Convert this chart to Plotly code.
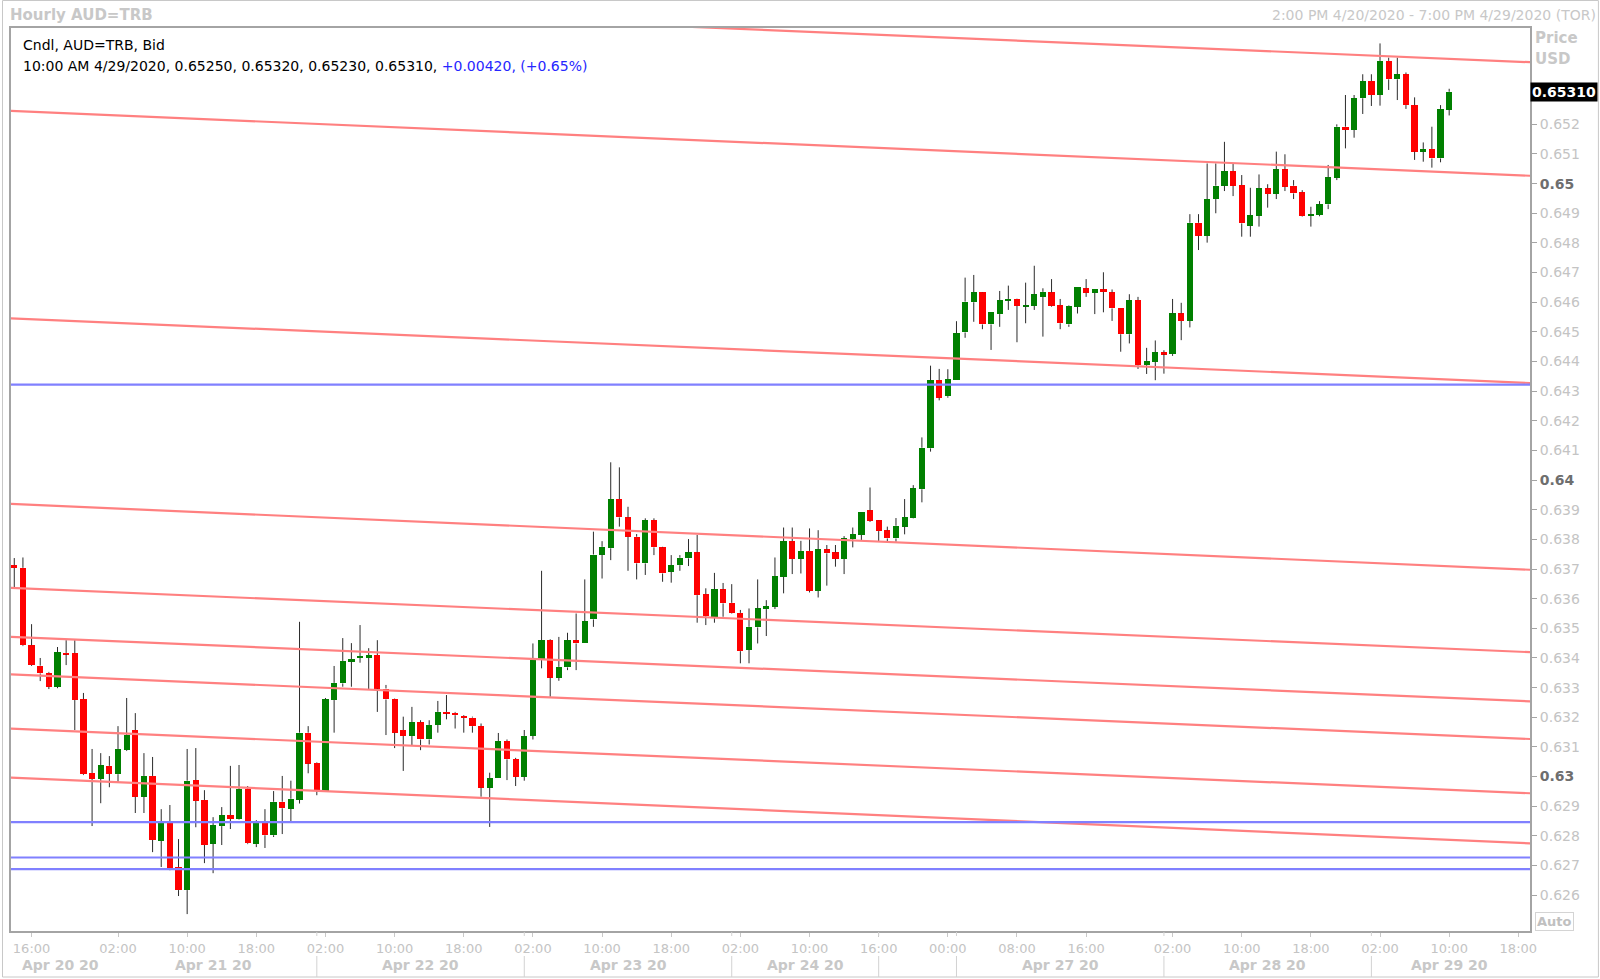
import plotly.graph_objects as go

# ---------------- data (hourly bars, index = bar slot on the chart) ----------------
OPEN = [0.63713, 0.63704, 0.63443, 0.63374, 0.63350, 0.63303, 0.63417, 0.63416, 0.63261, 0.63012,
        0.62992, 0.63036, 0.63008, 0.63089, 0.63157, 0.62932, 0.63002, 0.62783, 0.62843, 0.62695,
        0.62617, 0.62988, 0.62921, 0.62774, 0.62833, 0.62870, 0.62857, 0.62958, 0.62772, 0.62846,
        0.62802, 0.62915, 0.62892, 0.62921, 0.63148, 0.63046, 0.62952, 0.63258, 0.63314, 0.63387,
        0.63400, 0.63400, 0.63410, 0.63297, 0.63261, 0.63157, 0.63137, 0.63183, 0.63125, 0.63174,
        0.63218, 0.63215, 0.63204, 0.63199, 0.63170, 0.62963, 0.62994, 0.63120, 0.63059, 0.62999,
        0.63137, 0.63393, 0.63460, 0.63334, 0.63368, 0.63460, 0.63449, 0.63530, 0.63749, 0.63770,
        0.63936, 0.63874, 0.63809, 0.63719, 0.63865, 0.63773, 0.63691, 0.63713, 0.63736, 0.63756,
        0.63615, 0.63539, 0.63631, 0.63586, 0.63552, 0.63427, 0.63503, 0.63565, 0.63573, 0.63674,
        0.63794, 0.63734, 0.63761, 0.63627, 0.63766, 0.63756, 0.63734, 0.63801, 0.63815, 0.63898,
        0.63864, 0.63830, 0.63803, 0.63843, 0.63873, 0.63969, 0.64107, 0.64337, 0.64283, 0.64337,
        0.64498, 0.64600, 0.64633, 0.64525, 0.64560, 0.64606, 0.64611, 0.64587, 0.64588, 0.64618,
        0.64633, 0.64590, 0.64525, 0.64585, 0.64647, 0.64632, 0.64643, 0.64633, 0.64581, 0.64492,
        0.64607, 0.64388, 0.64399, 0.64431, 0.64425, 0.64562, 0.64537, 0.64868, 0.64824, 0.64948,
        0.64993, 0.65042, 0.64995, 0.64858, 0.64892, 0.64984, 0.64965, 0.65048, 0.64993, 0.64971,
        0.64892, 0.64894, 0.64930, 0.65020, 0.65192, 0.65181, 0.65288, 0.65346, 0.65299, 0.65414,
        0.65352, 0.65369, 0.65265, 0.65108, 0.65117, 0.65085, 0.65250]
HIGH = [0.63737, 0.63739, 0.63514, 0.63400, 0.63353, 0.63437, 0.63460, 0.63460, 0.63282, 0.63093,
        0.63079, 0.63069, 0.63170, 0.63265, 0.63214, 0.63079, 0.63066, 0.62890, 0.62904, 0.62789,
        0.63093, 0.63096, 0.62954, 0.62863, 0.62897, 0.63036, 0.63039, 0.62968, 0.62853, 0.62890,
        0.62951, 0.63002, 0.62986, 0.63522, 0.63170, 0.63048, 0.63265, 0.63373, 0.63467, 0.63450,
        0.63511, 0.63433, 0.63460, 0.63309, 0.63263, 0.63202, 0.63235, 0.63190, 0.63190, 0.63255,
        0.63275, 0.63218, 0.63207, 0.63202, 0.63179, 0.63013, 0.63147, 0.63125, 0.63063, 0.63157,
        0.63449, 0.63694, 0.63463, 0.63471, 0.63485, 0.63550, 0.63665, 0.63826, 0.63794, 0.64060,
        0.64043, 0.63910, 0.63818, 0.63871, 0.63871, 0.63775, 0.63747, 0.63747, 0.63801, 0.63815,
        0.63635, 0.63687, 0.63653, 0.63649, 0.63562, 0.63567, 0.63665, 0.63595, 0.63739, 0.63840,
        0.63840, 0.63795, 0.63837, 0.63831, 0.63781, 0.63781, 0.63811, 0.63840, 0.63892, 0.63975,
        0.63865, 0.63843, 0.63872, 0.63936, 0.63983, 0.64144, 0.64386, 0.64375, 0.64374, 0.64536,
        0.64683, 0.64692, 0.64634, 0.64566, 0.64638, 0.64656, 0.64612, 0.64666, 0.64723, 0.64647,
        0.64678, 0.64611, 0.64590, 0.64652, 0.64678, 0.64643, 0.64701, 0.64643, 0.64581, 0.64627,
        0.64618, 0.64446, 0.64471, 0.64438, 0.64611, 0.64598, 0.64897, 0.64897, 0.65068, 0.65068,
        0.65141, 0.65068, 0.65029, 0.64986, 0.65031, 0.64998, 0.65108, 0.65099, 0.65012, 0.64978,
        0.64922, 0.64941, 0.65063, 0.65200, 0.65299, 0.65299, 0.65369, 0.65369, 0.65473, 0.65425,
        0.65425, 0.65375, 0.65291, 0.65139, 0.65192, 0.65265, 0.65320]
LOW = [0.63639, 0.63440, 0.63373, 0.63322, 0.63295, 0.63298, 0.63376, 0.63157, 0.63005, 0.62833,
       0.62910, 0.62964, 0.62981, 0.63086, 0.62877, 0.62877, 0.62745, 0.62695, 0.62684, 0.62597,
       0.62536, 0.62829, 0.62708, 0.62674, 0.62769, 0.62823, 0.62855, 0.62772, 0.62762, 0.62759,
       0.62796, 0.62806, 0.62847, 0.62909, 0.63011, 0.62937, 0.62951, 0.63148, 0.63303, 0.63303,
       0.63384, 0.63292, 0.63218, 0.63140, 0.63096, 0.63019, 0.63106, 0.63089, 0.63108, 0.63148,
       0.63193, 0.63162, 0.63148, 0.63148, 0.62932, 0.62830, 0.62994, 0.62988, 0.62968, 0.62986,
       0.63125, 0.63365, 0.63269, 0.63323, 0.63359, 0.63359, 0.63449, 0.63505, 0.63668, 0.63730,
       0.63843, 0.63694, 0.63665, 0.63680, 0.63747, 0.63657, 0.63654, 0.63694, 0.63710, 0.63519,
       0.63511, 0.63519, 0.63539, 0.63550, 0.63382, 0.63382, 0.63449, 0.63474, 0.63565, 0.63618,
       0.63683, 0.63685, 0.63621, 0.63604, 0.63644, 0.63708, 0.63683, 0.63773, 0.63798, 0.63859,
       0.63794, 0.63792, 0.63792, 0.63817, 0.63871, 0.63925, 0.64096, 0.64269, 0.64278, 0.64337,
       0.64480, 0.64534, 0.64509, 0.64439, 0.64517, 0.64574, 0.64465, 0.64529, 0.64574, 0.64484,
       0.64585, 0.64509, 0.64517, 0.64562, 0.64618, 0.64560, 0.64566, 0.64537, 0.64433, 0.64461,
       0.64375, 0.64358, 0.64337, 0.64359, 0.64419, 0.64472, 0.64515, 0.64776, 0.64801, 0.64900,
       0.64975, 0.64958, 0.64821, 0.64821, 0.64855, 0.64919, 0.64948, 0.64975, 0.64948, 0.64889,
       0.64855, 0.64890, 0.64914, 0.65012, 0.65119, 0.65155, 0.65235, 0.65262, 0.65263, 0.65316,
       0.65282, 0.65252, 0.65080, 0.65074, 0.65054, 0.65072, 0.65230]
CLOSE = [0.63704, 0.63443, 0.63376, 0.63348, 0.63303, 0.63419, 0.63413, 0.63258, 0.63008, 0.62992,
         0.63039, 0.63009, 0.63093, 0.63140, 0.62932, 0.63002, 0.62786, 0.62843, 0.62691, 0.62617,
         0.62986, 0.62918, 0.62769, 0.62836, 0.62870, 0.62857, 0.62958, 0.62775, 0.62846, 0.62802,
         0.62915, 0.62893, 0.62925, 0.63148, 0.63044, 0.62952, 0.63260, 0.63316, 0.63390, 0.63396,
         0.63406, 0.63410, 0.63297, 0.63260, 0.63148, 0.63137, 0.63183, 0.63125, 0.63174, 0.63218,
         0.63213, 0.63207, 0.63198, 0.63170, 0.62963, 0.62994, 0.63120, 0.63058, 0.62999, 0.63137,
         0.63393, 0.63460, 0.63334, 0.63370, 0.63460, 0.63449, 0.63524, 0.63749, 0.63775, 0.63936,
         0.63874, 0.63809, 0.63719, 0.63865, 0.63773, 0.63685, 0.63713, 0.63738, 0.63756, 0.63612,
         0.63541, 0.63631, 0.63584, 0.63552, 0.63423, 0.63505, 0.63567, 0.63575, 0.63676, 0.63794,
         0.63734, 0.63761, 0.63627, 0.63766, 0.63753, 0.63734, 0.63803, 0.63818, 0.63891, 0.63863,
         0.63828, 0.63803, 0.63846, 0.63875, 0.63972, 0.64109, 0.64337, 0.64278, 0.64341, 0.64495,
         0.64602, 0.64633, 0.64525, 0.64566, 0.64607, 0.64611, 0.64588, 0.64590, 0.64627, 0.64635,
         0.64588, 0.64529, 0.64588, 0.64652, 0.64632, 0.64643, 0.64635, 0.64579, 0.64492, 0.64607,
         0.64388, 0.64402, 0.64431, 0.64425, 0.64562, 0.64537, 0.64868, 0.64824, 0.64948, 0.64993,
         0.65042, 0.64993, 0.64866, 0.64894, 0.64984, 0.64965, 0.65048, 0.64990, 0.64967, 0.64891,
         0.64896, 0.64930, 0.65021, 0.65192, 0.65181, 0.65288, 0.65346, 0.65299, 0.65414, 0.65352,
         0.65369, 0.65265, 0.65108, 0.65117, 0.65085, 0.65252, 0.65310]

# red channel lines: price at bar slot 0 and at bar slot 175
RED_LINE_START = [0.65625, 0.65245, 0.64545, 0.63919, 0.63636, 0.63471, 0.63344, 0.63161, 0.62996]
RED_LINE_END = [0.65410, 0.65027, 0.64328, 0.63698, 0.63420, 0.63254, 0.63127, 0.62944, 0.62775]
RED_LINE_SLOTS = [0, 175]
# blue horizontal levels
BLUE_LEVELS = [0.64322, 0.62846, 0.62727, 0.62688]

# time axis labels (bar slot -> label)
TIME_TICK_SLOTS = [2, 12, 20, 28, 36, 44, 52, 60, 68, 76, 84, 92, 100, 108, 116, 124, 134, 142, 150, 158, 166, 174]
TIME_TICK_LABELS = ["16:00", "02:00", "10:00", "18:00", "02:00", "10:00", "18:00", "02:00", "10:00", "18:00",
                    "02:00", "10:00", "16:00", "00:00", "08:00", "16:00", "02:00", "10:00", "18:00", "02:00",
                    "10:00", "18:00"]
DATE_LABELS = ["Apr 20 20", "Apr 21 20", "Apr 22 20", "Apr 23 20", "Apr 24 20", "Apr 27 20", "Apr 28 20", "Apr 29 20"]
DATE_LABEL_SLOTS = [5.3, 23, 47, 71, 91.5, 121, 145, 166]
DATE_SEPARATOR_SLOTS = [35, 59, 83, 100, 109, 133, 157]
PRICE_TICKS = [round(0.626 + 0.001 * k, 3) for k in range(27)]

LAST_BAR_TEXT = "10:00 AM 4/29/2020"
CHANGE_TEXT = "+0.00420, (+0.65%)"

# ---------------- geometry helpers (pixel -> paper) ----------------
W, H = 1600, 979
ML, MR, MT, MB = 9, 70, 28, 48
PW, PH = W - ML - MR, H - MT - MB


def xp(px):
    return (px - ML) / PW


def yp(py):
    return (H - MB - py) / PH


FONT = "DejaVu Sans"
GREEN = "#008000"
RED = "#FF0000"
LIGHT = "#C4C4C4"

slots = list(range(len(OPEN)))

# bodies
MIN_BODY = 0.00005
bases, heights, colors = [], [], []
for o, c in zip(OPEN, CLOSE):
    lo, hi = min(o, c), max(o, c)
    h = hi - lo
    if h < MIN_BODY:
        mid = (lo + hi) / 2
        lo, h = mid - MIN_BODY / 2, MIN_BODY
    bases.append(lo)
    heights.append(h)
    colors.append(GREEN if c >= o else RED)

# wicks (two segments so they never cross the body)
wx, wy = [], []
for i, o, hgh, lw, c in zip(slots, OPEN, HIGH, LOW, CLOSE):
    top, bot = max(o, c), min(o, c)
    if hgh > top:
        wx += [i, i, None]
        wy += [top, hgh, None]
    if lw < bot:
        wx += [i, i, None]
        wy += [bot, lw, None]

X_RANGE = [-0.38, 175.35]
Y_RANGE = [0.62479, 0.65525]

fig = go.Figure()
fig.add_trace(go.Scatter(x=wx, y=wy, mode="lines", line=dict(color="#2b2b2b", width=1),
                         hoverinfo="skip", showlegend=False))
fig.add_trace(go.Bar(x=slots, y=heights, base=bases, width=0.72,
                     marker=dict(color=colors, line=dict(width=0)),
                     customdata=list(zip(OPEN, HIGH, LOW, CLOSE)),
                     hovertemplate="O %{customdata[0]:.5f}<br>H %{customdata[1]:.5f}<br>"
                                   "L %{customdata[2]:.5f}<br>C %{customdata[3]:.5f}<extra></extra>",
                     showlegend=False))

# trend lines, extended across the full visible range
s0, s1 = RED_LINE_SLOTS
for a, b in zip(RED_LINE_START, RED_LINE_END):
    slope = (b - a) / (s1 - s0)
    xs = [X_RANGE[0] - 1, X_RANGE[1] + 1]
    ys = [a + slope * (x - s0) for x in xs]
    fig.add_trace(go.Scatter(x=xs, y=ys, mode="lines", line=dict(color="#FF8080", width=2.2),
                             hoverinfo="skip", showlegend=False))
for lvl in BLUE_LEVELS:
    fig.add_trace(go.Scatter(x=[X_RANGE[0] - 1, X_RANGE[1] + 1], y=[lvl, lvl], mode="lines",
                             line=dict(color="#8080FF", width=2.2), hoverinfo="skip", showlegend=False))

# y tick labels (major ones bold & darker)
ytext = []
for v in PRICE_TICKS:
    if abs(v * 100 - round(v * 100)) < 1e-9:
        ytext.append("<b><span style='color:#6E6E6E'>%s</span></b>" % ("%.2f" % v))
    else:
        ytext.append("%.3f" % v)

annotations = [
    dict(x=xp(6), y=yp(15), xref="paper", yref="paper", xanchor="left", yanchor="middle",
         text="<b>Hourly AUD=TRB</b>", showarrow=False, font=dict(family=FONT, size=15, color="#C8C8C8")),
    dict(x=xp(1598), y=yp(15), xref="paper", yref="paper", xanchor="right", yanchor="middle",
         text="2:00 PM 4/20/2020 - 7:00 PM 4/29/2020 (TOR)", showarrow=False,
         font=dict(family=FONT, size=14, color="#C8C8C8")),
    dict(x=xp(19), y=yp(45), xref="paper", yref="paper", xanchor="left", yanchor="middle",
         text="Cndl, AUD=TRB, Bid", showarrow=False, font=dict(family=FONT, size=14, color="#000000")),
    dict(x=xp(19), y=yp(66), xref="paper", yref="paper", xanchor="left", yanchor="middle",
         text="%s, %.5f, %.5f, %.5f, %.5f, <span style='color:#2626FF'>%s</span>"
              % (LAST_BAR_TEXT, OPEN[-1], HIGH[-1], LOW[-1], CLOSE[-1], CHANGE_TEXT),
         showarrow=False, font=dict(family=FONT, size=14, color="#000000")),
    dict(x=xp(1533), y=yp(38), xref="paper", yref="paper", xanchor="left", yanchor="middle",
         text="<b>Price</b>", showarrow=False, font=dict(family=FONT, size=15, color="#C8C8C8")),
    dict(x=xp(1533), y=yp(59), xref="paper", yref="paper", xanchor="left", yanchor="middle",
         text="<b>USD</b>", showarrow=False, font=dict(family=FONT, size=15, color="#C8C8C8")),
    dict(x=xp(1530), y=CLOSE[-1], xref="paper", yref="y", xanchor="left", yanchor="middle",
         text="<b>%.5f</b>" % CLOSE[-1], showarrow=False, bgcolor="#000000", borderpad=1,
         font=dict(family=FONT, size=14, color="#FFFFFF")),
    dict(x=xp(1535), y=yp(921), xref="paper", yref="paper", xanchor="left", yanchor="middle",
         text="<b>Auto</b>", showarrow=False, bordercolor="#D4D4D4", borderwidth=1, borderpad=1,
         font=dict(family=FONT, size=13, color="#C0C0C0")),
]
for lab, s in zip(DATE_LABELS, DATE_LABEL_SLOTS):
    annotations.append(dict(x=s, y=yp(965), xref="x", yref="paper", xanchor="center", yanchor="middle",
                            text="<b>%s</b>" % lab, showarrow=False,
                            font=dict(family=FONT, size=14, color="#C8C8C8")))

shapes = [
    dict(type="rect", xref="paper", yref="paper", x0=xp(0.5), x1=xp(1598.5), y0=yp(977), y1=yp(0.5),
         line=dict(color="#C8C8C8", width=1), fillcolor="rgba(0,0,0,0)", layer="below"),
]
for s in DATE_SEPARATOR_SLOTS:
    shapes.append(dict(type="line", xref="x", yref="paper", x0=s, x1=s, y0=yp(956), y1=yp(977),
                       line=dict(color="#D2D2D2", width=1)))
    shapes.append(dict(type="line", xref="x", yref="paper", x0=s, x1=s, y0=yp(932), y1=yp(936),
                       line=dict(color="#D2D2D2", width=1)))

fig.update_layout(
    width=W, height=H,
    margin=dict(l=ML, r=MR, t=MT, b=MB, pad=0),
    paper_bgcolor="#FFFFFF", plot_bgcolor="#FFFFFF",
    barmode="overlay", bargap=0,
    showlegend=False,
    font=dict(family=FONT),
    annotations=annotations,
    shapes=shapes,
    xaxis=dict(range=X_RANGE, tickmode="array", tickvals=TIME_TICK_SLOTS, ticktext=TIME_TICK_LABELS,
               tickfont=dict(family=FONT, size=13, color=LIGHT), ticks="outside", ticklen=4,
               tickcolor="#C8C8C8", showgrid=False, zeroline=False, showline=True, mirror=True,
               linecolor="#A4A4A4", linewidth=2, fixedrange=True),
    yaxis=dict(range=Y_RANGE, side="right", tickmode="array", tickvals=PRICE_TICKS, ticktext=ytext,
               tickfont=dict(family=FONT, size=14, color=LIGHT), ticks="outside", ticklen=5,
               tickcolor="#A4A4A4", showgrid=False, zeroline=False, showline=True, mirror=True,
               linecolor="#A4A4A4", linewidth=2, fixedrange=True),
)

fig.write_html("out.html", config={"displayModeBar": False},
               post_script="document.body.style.margin='0px';document.body.style.overflow='hidden';")
